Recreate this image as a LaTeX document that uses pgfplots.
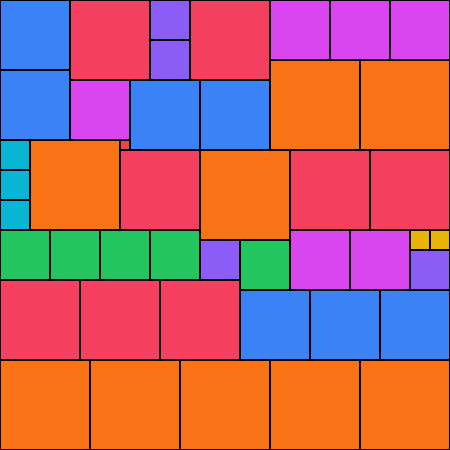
\documentclass[border=0pt]{standalone}
\usepackage{pgfplots}
\pgfplotsset{compat=1.18}
\definecolor{cblue}{HTML}{3B82F6}
\definecolor{cred}{HTML}{F43F5E}
\definecolor{cpurple}{HTML}{8B5CF6}
\definecolor{cmag}{HTML}{D946EF}
\definecolor{corange}{HTML}{F97316}
\definecolor{ccyan}{HTML}{06B6D4}
\definecolor{cgreen}{HTML}{22C55E}
\definecolor{cyellow}{HTML}{EAB308}
\definecolor{cred2}{HTML}{EF4444}
\newcommand{\rect}[5]{\addplot[draw=black, line width=0.5pt, fill=#1] coordinates {(#2,#3) (#4,#3) (#4,#5) (#2,#5)} -- cycle;}
\begin{document}
\begin{tikzpicture}
\begin{axis}[width=6cm, height=6cm, scale only axis, hide axis, xmin=0, xmax=450, ymin=0, ymax=450, y dir=reverse, clip=false]
\rect{cblue}{0}{0}{70}{70}
\rect{cblue}{0}{70}{70}{140}
\rect{cred}{70}{0}{150}{80}
\rect{cpurple}{150}{0}{190}{40}
\rect{cpurple}{150}{40}{190}{80}
\rect{cred}{190}{0}{270}{80}
\rect{cmag}{270}{0}{330}{60}
\rect{cmag}{330}{0}{390}{60}
\rect{cmag}{390}{0}{450}{60}
\rect{cmag}{70}{80}{130}{140}
\rect{cblue}{130}{80}{200}{150}
\rect{cblue}{200}{80}{270}{150}
\rect{corange}{270}{60}{360}{150}
\rect{corange}{360}{60}{450}{150}
\rect{ccyan}{0}{140}{30}{170}
\rect{ccyan}{0}{170}{30}{200}
\rect{ccyan}{0}{200}{30}{230}
\rect{corange}{30}{140}{120}{230}
\rect{cred2}{120}{140}{130}{150}
\rect{cred}{120}{150}{200}{230}
\rect{corange}{200}{150}{290}{240}
\rect{cred}{290}{150}{370}{230}
\rect{cred}{370}{150}{450}{230}
\rect{cgreen}{0}{230}{50}{280}
\rect{cgreen}{50}{230}{100}{280}
\rect{cgreen}{100}{230}{150}{280}
\rect{cgreen}{150}{230}{200}{280}
\rect{cpurple}{200}{240}{240}{280}
\rect{cgreen}{240}{240}{290}{290}
\rect{cmag}{290}{230}{350}{290}
\rect{cmag}{350}{230}{410}{290}
\rect{cyellow}{410}{230}{430}{250}
\rect{cyellow}{430}{230}{450}{250}
\rect{cpurple}{410}{250}{450}{290}
\rect{cred}{0}{280}{80}{360}
\rect{cred}{80}{280}{160}{360}
\rect{cred}{160}{280}{240}{360}
\rect{cblue}{240}{290}{310}{360}
\rect{cblue}{310}{290}{380}{360}
\rect{cblue}{380}{290}{450}{360}
\rect{corange}{0}{360}{90}{450}
\rect{corange}{90}{360}{180}{450}
\rect{corange}{180}{360}{270}{450}
\rect{corange}{270}{360}{360}{450}
\rect{corange}{360}{360}{450}{450}
\end{axis}
\pgfresetboundingbox
\useasboundingbox (current axis.south west) rectangle (current axis.north east);
\end{tikzpicture}
\end{document}
